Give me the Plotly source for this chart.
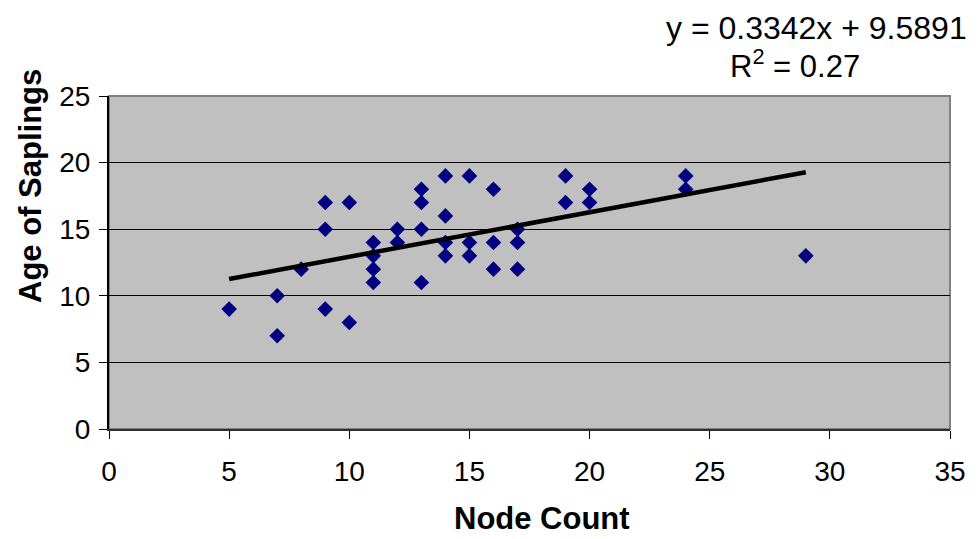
import plotly.graph_objects as go

node_count = [5, 7, 7, 8, 9, 9, 9, 10, 10, 11, 11, 11, 11, 12, 12,
              13, 13, 13, 13, 14, 14, 14, 14, 15, 15, 15, 16, 16, 16,
              17, 17, 17, 19, 19, 20, 20, 24, 24, 29]
sapling_age = [9, 10, 7, 12, 17, 15, 9, 17, 8, 14, 13, 12, 11, 15, 14,
               18, 17, 15, 11, 19, 16, 14, 13, 19, 14, 13, 18, 14, 12,
               15, 14, 12, 19, 17, 18, 17, 19, 18, 13]
trend_slope = 0.3342
trend_intercept = 9.5891
r_squared = 0.27

x_min, x_max = min(node_count), max(node_count)
trend_x = [x_min, x_max]
trend_y = [trend_slope * v + trend_intercept for v in trend_x]

FONT = "Liberation Sans, Arial, sans-serif"

# page body has an 8px margin; figure placed at (8, 8)
OFF = 8
W, H = 979 - OFF, 539 - OFF
L, R, T, B = 109 - OFF, 979 - 950, 96 - OFF, 539 - 429
PW, PH = W - L - R, H - T - B


def px_x(xabs):
    return (xabs - OFF - L) / PW


def px_y(yabs):
    return (H - B - (yabs - OFF)) / PH


fig = go.Figure()
fig.add_trace(go.Scatter(
    x=node_count, y=sapling_age, mode="markers",
    marker=dict(symbol="diamond", size=12, color="#000080",
                line=dict(width=0)),
    showlegend=False, cliponaxis=False))
fig.add_trace(go.Scatter(
    x=trend_x, y=trend_y, mode="lines",
    line=dict(color="black", width=4.5), showlegend=False))

fig.update_layout(
    width=W, height=H,
    margin=dict(l=L, r=R, t=T, b=B),
    paper_bgcolor="white", plot_bgcolor="#C0C0C0",
    font=dict(family=FONT, color="black", size=28),
    xaxis=dict(range=[0, 35], tickvals=[0, 5, 10, 15, 20, 25, 30, 35],
               showgrid=False, zeroline=False,
               showline=True, linecolor="#303030", linewidth=2,
               ticks="outside", ticklen=8, tickcolor="black", tickwidth=1,
               ticklabelstandoff=8,
               tickfont=dict(size=28)),
    yaxis=dict(range=[0, 25], tickvals=[0, 5, 10, 15, 20, 25],
               showgrid=True, gridcolor="black", gridwidth=1,
               zeroline=False,
               showline=True, linecolor="black", linewidth=2,
               ticks="outside", ticklen=8, tickcolor="black", tickwidth=1,
               ticklabelstandoff=3,
               tickfont=dict(size=28)),
    shapes=[dict(type="rect", xref="paper", yref="paper", x0=0, x1=1, y0=0, y1=1,
                 line=dict(color="#808080", width=2), layer="below")],
    annotations=[
        dict(text="<b>Node Count</b>", xref="paper", yref="paper",
             x=px_x(542), y=px_y(518), xanchor="center", yanchor="middle",
             showarrow=False, font=dict(size=31)),
        dict(text="<b>Age of Saplings</b>", xref="paper", yref="paper",
             x=px_x(30), y=px_y(186), xanchor="center", yanchor="middle",
             textangle=-90, showarrow=False, font=dict(size=31)),
        dict(text=f"y = {trend_slope}x + {trend_intercept}", xref="paper", yref="paper",
             x=px_x(969), y=px_y(28), xanchor="right", yanchor="middle",
             showarrow=False, font=dict(size=32)),
        dict(text=f"R<sup>2</sup> = {r_squared}", xref="paper", yref="paper",
             x=px_x(728), y=px_y(64), xanchor="left", yanchor="middle",
             showarrow=False, font=dict(size=31)),
    ],
)

fig.write_html("out.html")
